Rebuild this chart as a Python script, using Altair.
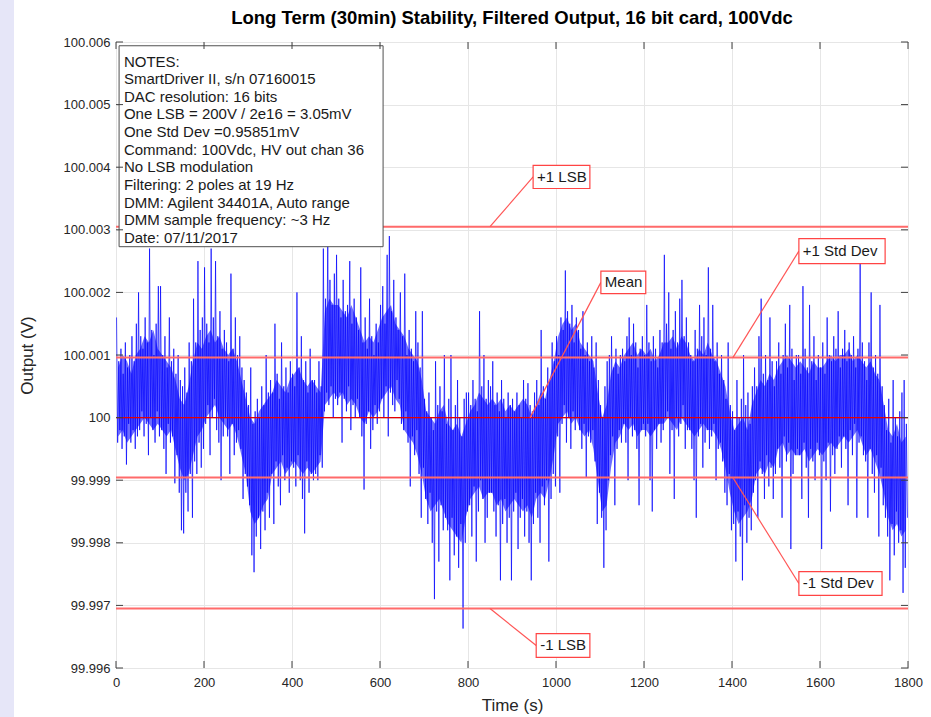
import altair as alt
import pandas as pd

# ---------------- data ----------------
# Output deviation from 100 V, in mV, per 5-second bin: upper and lower excursion (spikes)
BIN_S = 5
hi_mv = [
    1.6, 0.9, 1.1, 0.7, 1.2, 0.8, 1.0, 1.3, 0.9, 1.5,   2.0, 1.3, 1.1, 1.6, 1.2, 2.7, 1.4, 1.0, 1.5, 2.1,
    2.1, 1.0, 1.3, 0.8, 1.6, 0.9, 1.1, 0.7, 1.0, 0.6,   0.5, 0.8, 0.4, 1.2, 0.9, 1.9, 1.2, 2.5, 1.4, 1.6,
    2.4, 1.5, 1.2, 2.7, 1.6, 2.5, 1.3, 1.7, 1.1, 1.4,   1.2, 0.9, 2.3, 1.1, 1.6, 1.0, 1.3, 0.8, 0.6, 0.4,
    0.2, 0.8, -0.1, 0.1, 0.3, 0.0, 0.5, 0.2, 1.0, 0.4,  0.6, 0.4, 1.5, 0.7, 0.3, 1.2, 0.5, 0.8, 0.4, 0.9,
    0.7, 0.5, 2.0, 0.8, 1.3, 0.6, 0.9, 0.4, 1.1, 0.6,   0.6, 0.4, 0.9, 0.5, 2.7, 1.9, 2.8, 2.2, 1.8, 2.3,
    2.6, 1.9, 1.6, 2.2, 1.7, 1.8, 2.5, 1.5, 1.9, 1.6,   1.4, 2.4, 1.2, 1.6, 1.1, 1.9, 1.3, 1.0, 1.5, 1.2,
    1.8, 2.1, 1.5, 2.6, 2.9, 1.7, 2.2, 1.6, 1.4, 2.0,   1.3, 2.3, 1.0, 1.4, 1.1, 0.9, 1.7, 1.2, 0.8, 1.7,
    0.3, 0.1, 0.4, 0.0, -0.2, 0.9, 0.2, 0.5, 0.1, 1.0,  -0.1, 0.3, 1.0, -0.2, 0.2, 0.6, 0.0, -0.3, 0.3, 0.4,
    0.4, 0.2, 0.6, 0.3, 0.1, 1.7, 0.5, 1.0, 0.3, 0.6,   0.5, 0.9, 0.2, 0.4, 0.1, 0.6, 0.3, 0.0, 0.4, 0.2,
    0.3, 0.1, 0.4, 0.2, 0.0, 0.6, 0.3, 0.55, 0.2, 0.1,  0.4, 0.6, 0.2, 1.4, 0.5, 0.3, 0.8, 0.6, 1.2, 0.9,
    1.3, 1.0, 1.6, 1.4, 2.35, 1.7, 1.5, 1.8, 1.2, 1.6,  1.4, 1.1, 1.7, 1.0, 1.2, 0.9, 1.3, 0.8, 1.2, 0.6,
    0.2, 0.0, 0.5, 0.9, 1.0, 1.3, 0.8, 1.1, 0.7, 1.0,   1.1, 0.9, 1.3, 1.6, 1.0, 1.5, 1.2, 0.8, 1.1, 1.3,
    1.0, 1.8, 1.2, 0.9, 1.3, 1.1, 0.8, 1.4, 1.2, 2.6,   1.5, 2.0, 1.1, 1.4, 1.7, 1.2, 1.9, 2.2, 1.3, 1.6,
    1.2, 1.0, 0.9, 1.4, 1.1, 1.8, 1.3, 1.6, 1.0, 2.4,   1.1, 1.8, 0.9, 1.2, 0.7, 1.0, 0.6, 0.3, 1.2, 0.2,
    0.1, -0.2, 0.6, 0.0, 0.3, 1.0, 0.2, 0.4, -0.1, 0.5, 0.8, 0.5, 1.3, 1.9, 0.7, 1.0, 0.6, 1.6, 0.9, 0.5,
    0.9, 1.2, 0.7, 1.0, 1.5, 0.8, 1.8, 1.1, 0.6, 1.0,   1.0, 0.7, 2.1, 1.1, 0.8, 1.8, 0.9, 1.3, 0.6, 1.0,
    0.8, 1.2, 0.7, 1.6, 1.0, 0.9, 1.3, 1.1, 1.7, 0.8,   1.1, 1.4, 0.9, 1.2, 1.0, 1.3, 0.8, 1.1, 2.5, 1.2,
    0.9, 0.6, 1.2, 2.0, 0.8, 1.0, 0.7, 1.8, 0.5, 0.2,   -0.2, 0.3, -0.4, 0.6, 0.0, -0.3, 0.1, 0.4, 0.6, -0.1,
]
lo_mv = [
    -0.4, -0.2, -0.5, -0.3, -0.75, -0.1, -0.4, -0.2, -0.5, -0.3,  -0.2, 0.1, -0.3, -0.1, -0.6, 0.0, -0.2, -0.4, 0.1, -0.3,
    -0.2, -0.5, -0.9, -0.1, -0.4, -0.3, -1.05, -0.6, -1.2, -1.8,  -1.85, -1.2, -1.5, -0.9, -1.6, -0.7, -0.9, -0.4, -0.8, -0.5,
    -0.1, 0.2, -0.6, 0.0, 0.3, -0.2, -0.4, -1.0, -0.3, 0.0,       -0.3, -0.9, -0.1, -0.6, -0.4, -0.2, -0.5, -1.3, -0.9, -1.1,
    -1.4, -2.2, -2.47, -1.9, -1.6, -2.1, -1.5, -1.8, -1.2, -1.6,  -0.9, -1.7, -0.7, -1.1, -1.4, -0.6, -1.0, -0.8, -1.2, -0.7,
    -0.8, -1.1, -0.6, -1.0, -1.3, -1.85, -0.7, -1.2, -0.9, -1.0,  -0.9, -1.0, -0.6, -0.8, 0.1, 0.4, 0.2, 0.5, 0.0, 0.3,
    0.2, 0.4, -0.4, 0.3, 0.1, 0.5, -0.2, 0.2, 0.0, 0.3,           0.0, -0.3, -1.15, -0.1, 0.1, -0.5, -0.2, 0.2, -0.1, 0.1,
    0.3, 0.0, 0.5, -0.3, 0.4, 0.2, 0.1, 0.6, 0.3, -0.1,           -0.2, 0.1, -0.4, -1.1, -0.3, -0.6, -0.2, -0.9, -1.6, -0.8,
    -1.3, -1.7, -1.2, -2.0, -2.9, -1.5, -2.3, -1.4, -1.8, -1.6,   -1.8, -2.6, -1.6, -2.2, -1.9, -2.4, -1.7, -3.37, -2.0, -1.5,
    -1.4, -1.9, -1.1, -2.3, -1.5, -1.0, -1.3, -2.0, -1.6, -1.2,   -1.2, -1.5, -1.9, -1.4, -2.6, -1.7, -1.3, -2.0, -1.6, -2.6,
    -1.5, -1.2, -2.1, -1.6, -1.3, -1.9, -1.5, -2.0, -2.6, -1.7,   -1.2, -1.6, -2.0, -1.1, -1.4, -1.0, -2.3, -1.3, -0.9, -1.1,
    -0.3, -1.2, -0.1, 0.2, -0.4, 0.0, -0.5, 0.1, -0.2, 0.0,       -0.2, -0.5, -0.1, -0.95, -0.3, -0.4, -0.2, -0.7, -1.7, -1.2,
    -1.6, -2.4, -1.8, -1.0, -0.6, -0.3, -1.4, -0.5, -0.2, -0.4,   -0.1, -0.4, -1.0, 0.0, -0.3, -0.2, -0.5, -1.4, -0.2, -0.1,
    -0.3, -0.1, -1.0, -1.5, -0.2, -0.5, -0.1, -0.4, -0.2, 0.0,    0.1, -0.9, -0.2, -1.3, 0.0, -0.3, -0.1, 0.2, -0.5, -0.2,
    -0.2, -0.5, -1.0, -1.6, -0.3, -0.1, -0.8, -0.4, -0.2, -0.5,   -0.3, -0.1, -1.0, -0.5, -0.4, -0.7, -1.2, -1.4, -0.9, -1.8,
    -1.7, -2.3, -1.5, -1.9, -2.6, -1.4, -2.0, -1.6, -1.8, -1.2,   -1.0, -1.6, -0.7, -0.9, -1.3, -0.6, -1.1, -0.8, -1.3, -0.9,
    -0.5, -0.8, -1.6, -0.3, -0.7, -0.4, -2.1, -0.9, -0.6, -0.5,   -0.6, -1.3, -0.4, -0.8, -1.6, -0.5, -0.7, -1.0, -0.4, -0.6,
    -2.1, -0.7, -1.0, -0.4, -1.5, -0.6, -0.9, -0.5, -0.3, -0.8,   -0.3, -0.5, -1.4, -0.2, -0.6, -0.1, -1.6, -0.4, -0.3, -0.6,
    -0.7, -1.6, -0.5, -0.9, -1.2, -0.6, -1.9, -0.8, -1.4, -1.6,   -1.9, -2.6, -1.7, -2.2, -1.5, -2.0, -1.8, -2.8, -2.4, -1.6,
]

# Dense core of the trace (mV from 100 V), per 10-second bin
CORE_S = 10
core_hi_mv = [
    0.8, 1.0, 0.9, 0.7, 1.0,  1.1, 1.3, 1.2, 1.4, 1.1,  1.0, 0.9, 0.8, 0.6, 0.3,  0.2, 0.5, 0.9, 1.2, 1.1,
    1.3, 1.4, 1.2, 1.3, 1.1,  1.0, 1.1, 0.9, 0.6, 0.3,  0.0, -0.1, 0.1, 0.2, 0.3, 0.4, 0.6, 0.5, 0.4, 0.6,
    0.7, 0.8, 0.6, 0.5, 0.6,  0.5, 0.4, 1.7, 1.9, 1.8,  1.8, 1.7, 1.6, 1.8, 1.6,  1.4, 1.2, 1.3, 1.2, 1.4,
    1.6, 1.7, 1.8, 1.5, 1.4,  1.3, 1.1, 1.0, 0.9, 0.6,  0.1, 0.0, -0.1, 0.1, 0.2, -0.1, -0.2, -0.1, -0.3, -0.1,
    0.1, 0.2, 0.4, 0.3, 0.2,  0.3, 0.2, 0.3, 0.1, 0.2,  0.1, 0.2, 0.3, 0.2, 0.0,  0.2, 0.4, 0.3, 0.6, 0.9,
    1.3, 1.5, 1.6, 1.4, 1.5,  1.2, 1.1, 1.0, 0.9, 0.4,  0.0, 0.2, 0.7, 0.9, 0.8,  1.0, 1.1, 1.2, 1.0, 1.1,
    1.0, 1.1, 0.9, 1.0, 1.2,  1.2, 1.3, 1.1, 1.3, 1.2,  1.0, 0.9, 1.1, 1.0, 1.2,  1.0, 0.9, 0.7, 0.5, 0.1,
    -0.2, -0.1, 0.0, -0.2, 0.2, 0.4, 0.6, 0.5, 0.7, 0.6, 0.8, 0.9, 1.0, 0.9, 0.8,  0.9, 0.8, 0.7, 0.9, 0.8,
    0.8, 0.9, 1.0, 0.9, 1.0,  1.0, 1.1, 0.9, 1.0, 0.9,  0.8, 0.9, 0.7, 0.6, 0.2,  -0.2, -0.3, -0.1, -0.4, -0.3,
]
core_lo_mv = [
    -0.3, -0.2, -0.4, -0.3, -0.2,  -0.1, 0.0, -0.1, -0.2, -0.1,  -0.2, -0.3, -0.2, -0.5, -0.8,  -1.0, -0.9, -0.6, -0.3, -0.2,
    0.0, 0.1, 0.2, 0.0, -0.1,      -0.2, -0.1, -0.3, -0.6, -0.9,  -1.5, -1.7, -1.6, -1.4, -1.3,  -0.9, -0.8, -0.7, -0.9, -0.8,
    -0.7, -0.8, -0.9, -0.8, -0.9,  -0.8, -0.7, 0.2, 0.3, 0.4,     0.3, 0.4, 0.2, 0.3, 0.2,       0.0, -0.1, 0.1, 0.0, 0.1,
    0.3, 0.4, 0.5, 0.3, 0.2,       -0.2, -0.3, -0.4, -0.6, -0.9,  -1.3, -1.5, -1.4, -1.3, -1.5,  -1.7, -1.8, -1.9, -2.0, -1.6,
    -1.3, -1.2, -1.1, -1.3, -1.2,  -1.2, -1.4, -1.3, -1.5, -1.4,  -1.3, -1.4, -1.5, -1.4, -1.6,  -1.3, -1.2, -1.3, -1.0, -0.6,
    -0.1, 0.0, 0.1, -0.1, 0.0,     -0.2, -0.3, -0.2, -0.5, -1.0,  -1.5, -1.4, -0.8, -0.4, -0.3,  -0.1, -0.2, -0.1, -0.3, -0.2,
    -0.2, -0.3, -0.2, -0.1, -0.1,  0.0, -0.1, -0.2, 0.0, -0.1,    -0.2, -0.3, -0.2, -0.1, -0.2,  -0.2, -0.3, -0.5, -0.8, -1.2,
    -1.5, -1.7, -1.6, -1.5, -1.3,  -0.9, -0.8, -0.9, -0.7, -0.8,  -0.5, -0.4, -0.6, -0.5, -0.6,  -0.6, -0.5, -0.7, -0.6, -0.5,
    -0.6, -0.5, -0.4, -0.5, -0.4,  -0.3, -0.4, -0.3, -0.2, -0.4,  -0.6, -0.5, -0.7, -0.9, -1.2,  -1.6, -1.8, -1.7, -1.9, -1.8,
]

NOMINAL_V = 100.0
MEAN_V = 100.0
STD_V = 0.95851e-3
LSB_V = 3.05e-3

x_ticks = [0, 200, 400, 600, 800, 1000, 1200, 1400, 1600, 1800]
y_ticks = [99.996, 99.997, 99.998, 99.999, 100.0, 100.001, 100.002,
           100.003, 100.004, 100.005, 100.006]

notes_lines = [
    "NOTES:",
    "SmartDriver II, s/n 07160015",
    "DAC resolution: 16 bits",
    "One LSB = 200V / 2e16 = 3.05mV",
    "One Std Dev =0.95851mV",
    "Command: 100Vdc, HV out chan 36",
    "No LSB modulation",
    "Filtering: 2 poles at 19 Hz",
    "DMM: Agilent 34401A, Auto range",
    "DMM sample frequency: ~3 Hz",
    "Date: 07/11/2017",
]

title_text = "Long Term (30min) Stability, Filtered Output, 16 bit card, 100Vdc"

# ---------------- tables ----------------
rows = []
for i, (h, l) in enumerate(zip(hi_mv, lo_mv)):
    rows.append({"t": i * BIN_S + 1.25, "v": NOMINAL_V + h / 1000})
    rows.append({"t": i * BIN_S + 3.75, "v": NOMINAL_V + l / 1000})
signal = pd.DataFrame(rows)

core = pd.DataFrame({
    "t": [i * CORE_S + CORE_S / 2 for i in range(len(core_hi_mv))],
    "hi": [NOMINAL_V + v / 1000 for v in core_hi_mv],
    "lo": [NOMINAL_V + v / 1000 for v in core_lo_mv],
})

bands = pd.DataFrame({"v": [MEAN_V + LSB_V, MEAN_V + STD_V, MEAN_V - STD_V, MEAN_V - LSB_V]})
mean_df = pd.DataFrame({"v": [MEAN_V]})

def mv(m):
    return NOMINAL_V + m / 1000

# annotation callouts: label, anchor point on the line, box extent (time s, volts)
annots = pd.DataFrame([
    {"label": "+1 LSB",     "ax": 850,  "ay": MEAN_V + LSB_V, "bx0": 948,  "bx1": 1077, "by0": mv(3.66),  "by1": mv(4.03)},
    {"label": "Mean",       "ax": 941,  "ay": MEAN_V,         "bx0": 1102, "bx1": 1204, "by0": mv(1.98),  "by1": mv(2.34)},
    {"label": "+1 Std Dev", "ax": 1402, "ay": MEAN_V + STD_V, "bx0": 1552, "bx1": 1748, "by0": mv(2.46),  "by1": mv(2.86)},
    {"label": "-1 Std Dev", "ax": 1402, "ay": MEAN_V - STD_V, "bx0": 1552, "bx1": 1741, "by0": mv(-2.84), "by1": mv(-2.46)},
    {"label": "-1 LSB",     "ax": 850,  "ay": MEAN_V - LSB_V, "bx0": 955,  "bx1": 1077, "by0": mv(-3.83), "by1": mv(-3.45)},
])
annots["bym"] = (annots["by0"] + annots["by1"]) / 2
annots["tx"] = annots["bx0"] + 9

notes_box = pd.DataFrame([{"x0": 7, "x1": 607, "y0": mv(2.73), "y1": mv(5.94)}])
notes_txt = pd.DataFrame([{"x": 18, "y": mv(5.80), "text": "\n".join(notes_lines)}])

W, H = 792, 626
FONT = "Liberation Sans, Arial, Helvetica, sans-serif"

xs = alt.Scale(domain=[0, 1800], nice=False, zero=False)
ys = alt.Scale(domain=[99.996, 100.006], nice=False, zero=False)

x_axis = alt.Axis(values=x_ticks, title="Time (s)", ticks=False, domain=False,
                  labelFlush=False, labelPadding=8, titlePadding=8, format="d")
y_axis = alt.Axis(values=y_ticks, title="Output (V)", ticks=False, domain=False,
                  labelPadding=6, titlePadding=27,
                  labelExpr="format(datum.value, '.3~f') == '100' ? '100' : format(datum.value, '.3f')")

core_area = alt.Chart(core).mark_area(color="#0a0aff", opacity=0.6, clip=True).encode(
    x=alt.X("t:Q", scale=xs, axis=x_axis),
    y=alt.Y("lo:Q", scale=ys, axis=y_axis),
    y2="hi:Q",
)
line = alt.Chart(signal).mark_line(color="#0000ff", strokeWidth=1, opacity=0.7, clip=True).encode(
    x=alt.X("t:Q", scale=xs),
    y=alt.Y("v:Q", scale=ys),
)

band_rules = alt.Chart(bands).mark_rule(color="#ff6a6a", strokeWidth=2).encode(y=alt.Y("v:Q", scale=ys))
mean_rule = alt.Chart(mean_df).mark_rule(color="#e60000", strokeWidth=1.2).encode(y=alt.Y("v:Q", scale=ys))

leaders = alt.Chart(annots).mark_rule(color="#ff5555", strokeWidth=1.2).encode(
    x=alt.X("ax:Q", scale=xs), y=alt.Y("ay:Q", scale=ys),
    x2="bx0:Q", y2="bym:Q",
)
boxes = alt.Chart(annots).mark_rect(fill="white", stroke="#ff4444", strokeWidth=1.2).encode(
    x=alt.X("bx0:Q", scale=xs), x2="bx1:Q",
    y=alt.Y("by0:Q", scale=ys), y2="by1:Q",
)
labels = alt.Chart(annots).mark_text(font=FONT, fontSize=15, color="#1a1a1a", align="left", baseline="middle").encode(
    x=alt.X("tx:Q", scale=xs), y=alt.Y("bym:Q", scale=ys), text="label:N",
)

nbox = alt.Chart(notes_box).mark_rect(fill="white", stroke="#505050", strokeWidth=1).encode(
    x=alt.X("x0:Q", scale=xs), x2="x1:Q", y=alt.Y("y0:Q", scale=ys), y2="y1:Q",
)
ntext = alt.Chart(notes_txt).mark_text(font=FONT, fontSize=15, color="#1a1a1a", align="left",
                                       baseline="top", lineBreak="\n", lineHeight=17.65).encode(
    x=alt.X("x:Q", scale=xs), y=alt.Y("y:Q", scale=ys), text="text:N",
)

# inward tick marks (MATLAB style) on all four sides
xt = pd.DataFrame({"t": x_ticks})
yt = pd.DataFrame({"v": y_ticks})
TK = "#404040"
tick_b = alt.Chart(xt).mark_rule(color=TK).encode(x=alt.X("t:Q", scale=xs), y=alt.value(H), y2=alt.value(H - 7))
tick_t = alt.Chart(xt).mark_rule(color=TK).encode(x=alt.X("t:Q", scale=xs), y=alt.value(0), y2=alt.value(7))
tick_l = alt.Chart(yt).mark_rule(color=TK).encode(y=alt.Y("v:Q", scale=ys), x=alt.value(0), x2=alt.value(7))
tick_r = alt.Chart(yt).mark_rule(color=TK).encode(y=alt.Y("v:Q", scale=ys), x=alt.value(W), x2=alt.value(W - 7))

# lavender strip at the left edge of the figure window
strip = alt.Chart(mean_df).mark_rect(color="#e6e6f8").encode(
    x=alt.value(-116), x2=alt.value(-102), y=alt.value(-42), y2=alt.value(H + 49))

chart = alt.layer(
    strip, core_area, line, band_rules, mean_rule, leaders, boxes, labels, nbox, ntext,
    tick_b, tick_t, tick_l, tick_r,
).properties(
    width=W, height=H,
    autosize=alt.AutoSizeParams(type="none"),
    padding={"left": 116, "top": 42, "right": 23, "bottom": 49},
    background="white",
    # the strip reaches 42 px above the plot, so the title sits back down by a negative offset
    title=alt.TitleParams(title_text, font=FONT, fontSize=18.5, fontWeight="bold",
                          color="#000000", anchor="middle", frame="group", offset=-27),
).configure_view(
    stroke="#404040", strokeWidth=1,
).configure_axis(
    labelFont=FONT, labelFontSize=13, labelColor="#262626",
    titleFont=FONT, titleFontSize=17, titleColor="#262626", titleFontWeight="normal",
    gridColor="#e6e6e6", gridWidth=1,
)

chart.save("out.html", embed_options={"renderer": "svg", "actions": False})
